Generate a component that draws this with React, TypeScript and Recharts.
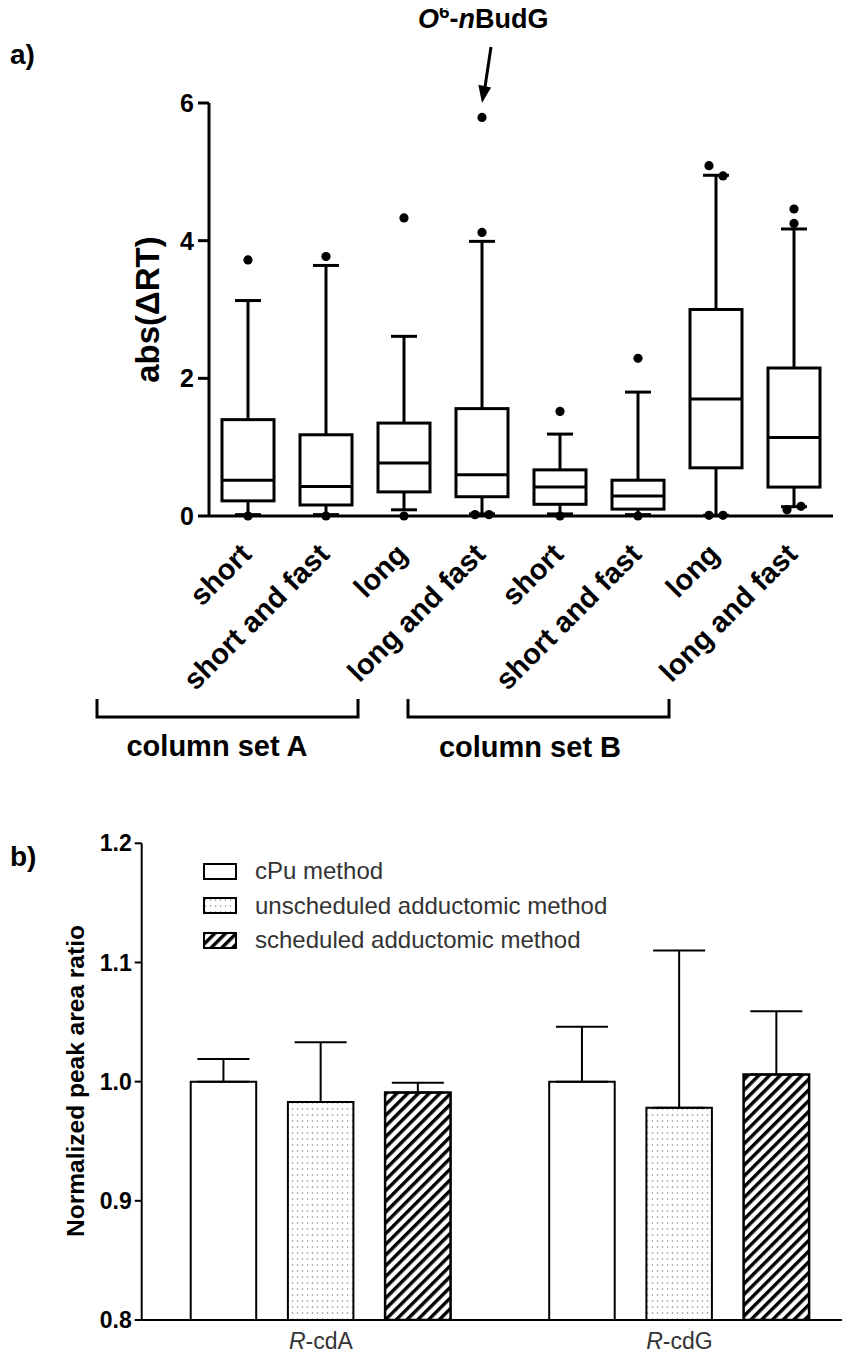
import React from 'react';
import { ComposedChart, BarChart, Bar, Scatter, XAxis, YAxis, ErrorBar, Legend } from 'recharts';

// ---------- panel a) : box plots ----------
const boxIds = ['A-short', 'A-short-fast', 'A-long', 'A-long-fast', 'B-short', 'B-short-fast', 'B-long', 'B-long-fast'];
const boxLabels = ['short', 'short and fast', 'long', 'long and fast', 'short', 'short and fast', 'long', 'long and fast'];
const whiskerLow = [0.02, 0.02, 0.09, 0.03, 0.03, 0.02, 0.01, 0.135];
const quartile1 = [0.22, 0.16, 0.35, 0.28, 0.17, 0.1, 0.7, 0.42];
const medians = [0.52, 0.43, 0.77, 0.6, 0.42, 0.29, 1.7, 1.14];
const quartile3 = [1.4, 1.18, 1.35, 1.56, 0.67, 0.52, 3.0, 2.15];
const whiskerHigh = [3.13, 3.64, 2.61, 3.99, 1.19, 1.8, 4.95, 4.17];
const outlierMid1 = [3.72, 3.77, 4.33, 5.79, 1.52, 2.29, null, 4.46];
const outlierMid2 = [0, 0, 0, 4.12, 0, 0, null, 4.25];
const outlierLeft1 = [null, null, null, 0.02, null, null, 5.09, 0.09];
const outlierRight1 = [null, null, null, 0.02, null, null, 4.94, 0.14];
const outlierLeft2 = [null, null, null, null, null, null, 0.01, null];
const outlierRight2 = [null, null, null, null, null, null, 0.01, null];
const yTicksA = [0, 2, 4, 6];

// ---------- panel b) : bars ----------
const targets = ['R-cdA', 'R-cdG'];
const methodNames = ['cPu method', 'unscheduled adductomic method', 'scheduled adductomic method'];
const cpuValues = [1.0, 1.0];
const cpuErrors = [0.019, 0.046];
const unscheduledValues = [0.983, 0.978];
const unscheduledErrors = [0.05, 0.132];
const scheduledValues = [0.991, 1.006];
const scheduledErrors = [0.008, 0.053];
const yTicksB = [0.8, 0.9, 1.0, 1.1, 1.2];

const boxData = boxIds.map((id, i) => ({
  id,
  range: [whiskerLow[i], whiskerHigh[i]],
  q1: quartile1[i],
  median: medians[i],
  q3: quartile3[i],
  oMid1: outlierMid1[i],
  oMid2: outlierMid2[i],
  oLeft1: outlierLeft1[i],
  oRight1: outlierRight1[i],
  oLeft2: outlierLeft2[i],
  oRight2: outlierRight2[i],
}));

const barData = targets.map((t, i) => ({
  target: t,
  cpu: cpuValues[i],
  cpuErr: [0, cpuErrors[i]],
  unsched: unscheduledValues[i],
  unschedErr: [0, unscheduledErrors[i]],
  sched: scheduledValues[i],
  schedErr: [0, scheduledErrors[i]],
}));

const FONT = '"Liberation Sans", Arial, Helvetica, sans-serif';
const fills = ['#ffffff', 'url(#dotFill)', 'url(#hatchFill)'];

const BoxShape = (props: any) => {
  const { x, y, width, height, payload } = props;
  if (x == null || y == null || !payload) return <g />;
  const top = Math.min(y, y + height);
  const bot = Math.max(y, y + height);
  const [lo, hi] = payload.range;
  const py = (v: number) => bot - ((v - lo) / (hi - lo)) * (bot - top);
  const cx = x + width / 2;
  const cap = 13;
  return (
    <g stroke="#000" strokeWidth={3} fill="none">
      <line x1={cx} x2={cx} y1={py(hi)} y2={py(payload.q3)} />
      <line x1={cx} x2={cx} y1={py(payload.q1)} y2={py(lo)} />
      <line x1={cx - cap} x2={cx + cap} y1={py(hi)} y2={py(hi)} />
      <line x1={cx - cap} x2={cx + cap} y1={py(lo)} y2={py(lo)} />
      <rect x={x} y={py(payload.q3)} width={width} height={py(payload.q1) - py(payload.q3)} fill="#fff" />
      <line x1={x} x2={x + width} y1={py(payload.median)} y2={py(payload.median)} />
    </g>
  );
};

const dotShape = (key: string, dx: number) => (p: any) => {
  const v = p && p.payload ? p.payload[key] : null;
  if (v == null || p.cx == null || p.cy == null || isNaN(p.cy)) return <g />;
  return <circle cx={p.cx + dx} cy={p.cy} r={4.6} fill="#000" />;
};

const BoxTick = (props: any) => {
  const { x, y, payload } = props;
  const i = boxIds.indexOf(payload.value);
  const ax = x + 5;
  const ay = y + 32;
  return (
    <text x={ax} y={ay} transform={`rotate(-45 ${ax} ${ay})`} textAnchor="end" fontSize={29} fontWeight="bold" fill="#000" fontFamily={FONT}>
      {boxLabels[i]}
    </text>
  );
};

const TargetTick = (props: any) => {
  const { x, y, payload } = props;
  const s: string = payload.value;
  return (
    <text x={x} y={y + 21} textAnchor="middle" fontSize={23} fill="#333" fontFamily={FONT}>
      <tspan fontStyle="italic">{s.slice(0, 1)}</tspan>
      <tspan>{s.slice(1)}</tspan>
    </text>
  );
};

const LegendContent = () => (
  <div style={{ display: 'flex', flexDirection: 'column', fontFamily: FONT }}>
    {methodNames.map((n, i) => (
      <div key={n} style={{ height: 34.5, display: 'flex', alignItems: 'center', whiteSpace: 'nowrap' }}>
        <svg width={34} height={17} style={{ marginRight: 18, overflow: 'visible', flex: 'none' }}>
          <rect x={1} y={1} width={32} height={15} fill={fills[i]} stroke="#000" strokeWidth={2} />
        </svg>
        <span style={{ fontSize: 24, color: '#333', lineHeight: '24px' }}>{n}</span>
      </div>
    ))}
  </div>
);

export default function App() {
  return (
    <div style={{ position: 'relative', width: 850, height: 1357, margin: -8, overflow: 'hidden', background: '#fff', fontFamily: FONT }}>
      {/* panel a */}
      <div style={{ position: 'absolute', left: 0, top: 0 }}>
        <ComposedChart width={850} height={730} data={boxData} margin={{ top: 103, right: 17, bottom: 114, left: 149 }}>
          <XAxis
            dataKey="id"
            height={100}
            interval={0}
            tickLine={false}
            axisLine={{ stroke: '#000', strokeWidth: 3 }}
            tick={BoxTick}
          />
          <YAxis
            width={60}
            type="number"
            domain={[0, 6]}
            ticks={yTicksA}
            interval={0}
            tickSize={11}
            tickMargin={4}
            axisLine={{ stroke: '#000', strokeWidth: 3 }}
            tickLine={{ stroke: '#000', strokeWidth: 3 }}
            tick={{ fontSize: 25, fontWeight: 'bold', fill: '#000', fontFamily: FONT }}
          />
          <Bar dataKey="range" barSize={52} shape={BoxShape} isAnimationActive={false} />
          <Scatter dataKey="oMid1" shape={dotShape('oMid1', 0)} isAnimationActive={false} />
          <Scatter dataKey="oMid2" shape={dotShape('oMid2', 0)} isAnimationActive={false} />
          <Scatter dataKey="oLeft1" shape={dotShape('oLeft1', -7)} isAnimationActive={false} />
          <Scatter dataKey="oRight1" shape={dotShape('oRight1', 7)} isAnimationActive={false} />
          <Scatter dataKey="oLeft2" shape={dotShape('oLeft2', -7)} isAnimationActive={false} />
          <Scatter dataKey="oRight2" shape={dotShape('oRight2', 7)} isAnimationActive={false} />
        </ComposedChart>
      </div>

      {/* panel b */}
      <div style={{ position: 'absolute', left: 0, top: 800 }}>
        <BarChart width={870} height={557} data={barData} margin={{ top: 43.3, right: 11.3, bottom: 7, left: 81.7 }} barGap={31.7}>
          <defs>
            <pattern id="dotFill" width={5} height={6} patternUnits="userSpaceOnUse">
              <rect width={5} height={6} fill="#fff" />
              <circle cx={2.5} cy={3} r={0.8} fill="#8a8a8a" />
            </pattern>
            <pattern id="hatchFill" width={7.6} height={7.6} patternUnits="userSpaceOnUse" patternTransform="rotate(45)">
              <rect width={7.6} height={7.6} fill="#fff" />
              <rect x={0} y={0} width={3.4} height={7.6} fill="#000" />
            </pattern>
          </defs>
          <XAxis dataKey="target" height={30} tickLine={false} axisLine={{ stroke: '#000', strokeWidth: 2 }} tick={TargetTick} />
          <YAxis
            width={60}
            type="number"
            domain={[0.8, 1.2]}
            ticks={yTicksB}
            interval={0}
            allowDataOverflow
            tickSize={7}
            tickMargin={3}
            tickFormatter={(v: number) => v.toFixed(1)}
            axisLine={{ stroke: '#000', strokeWidth: 2 }}
            tickLine={{ stroke: '#000', strokeWidth: 2 }}
            tick={{ fontSize: 23, fontWeight: 'bold', fill: '#000', fontFamily: FONT }}
          />
          <Legend
            layout="horizontal"
            verticalAlign="middle"
            align="center"
            content={LegendContent}
            wrapperStyle={{ left: 203, top: 54, width: 500, height: 110 }}
          />
          <Bar dataKey="cpu" name={methodNames[0]} barSize={65.5} fill={fills[0]} stroke="#000" strokeWidth={2} isAnimationActive={false}>
            <ErrorBar dataKey="cpuErr" direction="y" width={26} stroke="#000" strokeWidth={2} />
          </Bar>
          <Bar dataKey="unsched" name={methodNames[1]} barSize={65.5} fill={fills[1]} stroke="#000" strokeWidth={2} isAnimationActive={false}>
            <ErrorBar dataKey="unschedErr" direction="y" width={26} stroke="#000" strokeWidth={2} />
          </Bar>
          <Bar dataKey="sched" name={methodNames[2]} barSize={65.5} fill={fills[2]} stroke="#000" strokeWidth={2.5} isAnimationActive={false}>
            <ErrorBar dataKey="schedErr" direction="y" width={26} stroke="#000" strokeWidth={2} />
          </Bar>
        </BarChart>
      </div>

      {/* annotations */}
      <svg width={850} height={1357} style={{ position: 'absolute', left: 0, top: 0, pointerEvents: 'none' }} fontFamily={FONT}>
        <text x={10} y={64} fontSize={28} fontWeight="bold">a)</text>
        <text x={10} y={866} fontSize={28} fontWeight="bold">b)</text>
        <text x={159} y={309.5} transform="rotate(-90 159 309.5)" textAnchor="middle" fontSize={33} fontWeight="bold">abs(ΔRT)</text>
        <text x={84} y={1081} transform="rotate(-90 84 1081)" textAnchor="middle" fontSize={24.5} fontWeight="bold">Normalized peak area ratio</text>
        <text x={418} y={28} fontSize={27} fontWeight="bold">
          <tspan fontStyle="italic">O</tspan>
          <tspan dy={-10} fontSize={19}>6</tspan>
          <tspan dy={10}>-</tspan>
          <tspan fontStyle="italic">n</tspan>
          <tspan>BudG</tspan>
        </text>
        <line x1={491} y1={47} x2={485} y2={87} stroke="#000" strokeWidth={3} />
        <polygon points="482,103 478.3,84.8 491.1,87.4" fill="#000" />
        <polyline points="97,699 97,717 358,717 358,699" fill="none" stroke="#000" strokeWidth={3} />
        <polyline points="408,699 408,717 669,717 669,699" fill="none" stroke="#000" strokeWidth={3} />
        <text x={217} y={756} textAnchor="middle" fontSize={29} fontWeight="bold">column set A</text>
        <text x={530} y={757} textAnchor="middle" fontSize={29} fontWeight="bold">column set B</text>
      </svg>
    </div>
  );
}
